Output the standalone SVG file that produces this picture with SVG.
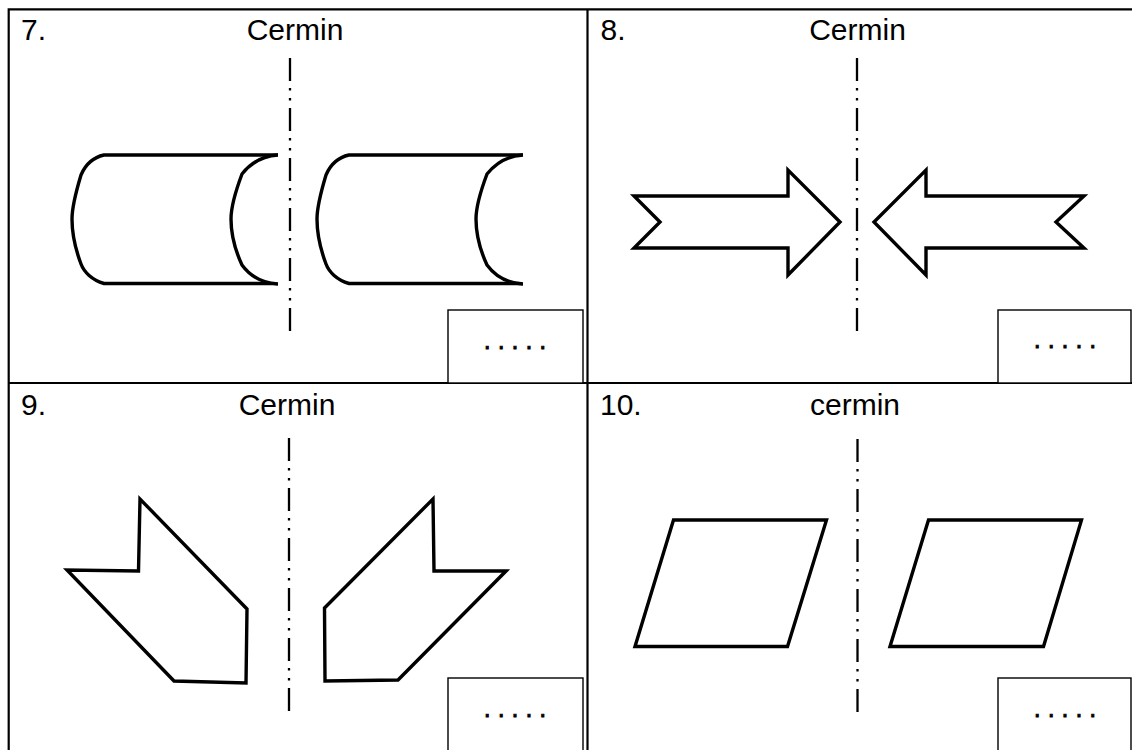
<svg xmlns="http://www.w3.org/2000/svg" width="1132" height="750" viewBox="0 0 1132 750">
  <style>
    .grid { fill: none; stroke: #000; stroke-width: 2.2; }
    .box { fill: #fff; stroke: #000; stroke-width: 1.4; }
    .shape { fill: #fff; stroke: #000; stroke-width: 3.4; stroke-linejoin: miter; }
    .axis { fill: none; stroke: #000; stroke-width: 2.3; stroke-dasharray: 23 7 2.5 7.5 2.5 7.5; }
    .lbl { font-family: "Liberation Sans", Arial, sans-serif; font-size: 30px; fill: #000; }
    .dots { font-family: "Liberation Sans", Arial, sans-serif; font-size: 25px; fill: #000; stroke: #000; stroke-width: 0.8; text-anchor: middle; }
  </style>
  <rect width="1132" height="750" fill="#fff"/>

  <g id="table">
    <path class="grid" d="M8.7,760 V9.3 H1140 M587.5,9.3 V760 M8.7,383 H1140"/>
  </g>

  <g id="cell7">
    <text class="lbl" x="21" y="40">7.</text>
    <text class="lbl" x="295" y="40" text-anchor="middle">Cermin</text>
    <line class="axis" x1="290" y1="58" x2="290" y2="331"/>
    <g id="cyl-left">
      <path class="shape" fill="none" d="M278,155 H104 C90,158 84,168 81,175 C75,195 72,210 72,219 C72,230 75,248 81,264 C84,272 92,280 104,283.5 H278"/>
      <path class="shape" fill="none" d="M278,155 C262,156 250,164 242,174 C236,190 231,205 231,219 C231,235 236,252 242,265 C250,276 262,283 278,284"/>
    </g>
    <g id="cyl-right" transform="translate(245,0)">
      <path class="shape" fill="none" d="M278,155 H104 C90,158 84,168 81,175 C75,195 72,210 72,219 C72,230 75,248 81,264 C84,272 92,280 104,283.5 H278"/>
      <path class="shape" fill="none" d="M278,155 C262,156 250,164 242,174 C236,190 231,205 231,219 C231,235 236,252 242,265 C250,276 262,283 278,284"/>
    </g>
    <g id="box7">
      <rect class="box" x="448" y="310" width="135" height="73"/>
      <text class="dots" x="515" y="348.5">. . . . .</text>
    </g>
  </g>

  <g id="cell8">
    <text class="lbl" x="600.5" y="40">8.</text>
    <text class="lbl" x="857.5" y="40" text-anchor="middle">Cermin</text>
    <line class="axis" x1="857" y1="58" x2="857" y2="331"/>
    <polygon id="arrow-right" class="shape" points="634,196 788,196 788,170 840,222 788,275 788,248 634,248 660,222"/>
    <polygon id="arrow-left" class="shape" points="1084,196 926,196 926,170 874,222 926,275 926,248 1084,248 1056,222"/>
    <g id="box8">
      <rect class="box" x="998" y="310" width="133" height="73"/>
      <text class="dots" x="1065" y="348">. . . . .</text>
    </g>
  </g>

  <g id="cell9">
    <text class="lbl" x="21" y="414.5">9.</text>
    <text class="lbl" x="287" y="414.5" text-anchor="middle">Cermin</text>
    <line class="axis" x1="289" y1="438" x2="289" y2="711"/>
    <polygon id="poly-left" class="shape" points="140,499 138.5,571 67,570 174,681 246,683 247,609"/>
    <polygon id="poly-right" class="shape" points="433,499 434,571 506,571 398,680 325,681 324.5,608"/>
    <g id="box9">
      <rect class="box" x="448" y="678" width="135" height="90"/>
      <text class="dots" x="515" y="716.5">. . . . .</text>
    </g>
  </g>

  <g id="cell10">
    <text class="lbl" x="600" y="415">10.</text>
    <text class="lbl" x="855" y="415" text-anchor="middle">cermin</text>
    <line class="axis" x1="857.5" y1="439" x2="857.5" y2="712"/>
    <polygon id="para-left" class="shape" points="673.5,520 826.5,520 787.5,646.5 635,646.5"/>
    <polygon id="para-right" class="shape" points="928.5,520 1081.5,520 1043.5,646.5 890,646.5"/>
    <g id="box10">
      <rect class="box" x="998" y="678" width="133" height="90"/>
      <text class="dots" x="1065" y="716.5">. . . . .</text>
    </g>
  </g>
</svg>
